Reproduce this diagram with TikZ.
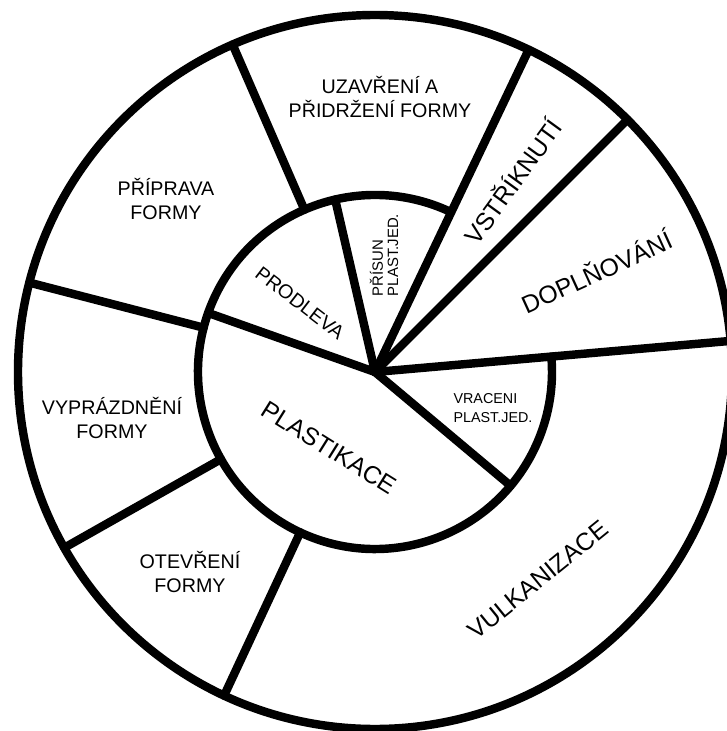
\documentclass[tikz,border=0pt]{standalone}
\usepackage{fontspec}
\setmainfont{Liberation Sans}
\setsansfont{Liberation Sans}
\tikzset{
  every picture/.style={font=\sffamily},
  raya/.style={line width=6pt, line cap=round, black},
  rotulo/.style={align=center, inner sep=0pt, font=\sffamily\fontsize{14}{16.4}\selectfont},
  rotulog/.style={inner sep=0pt, font=\sffamily\fontsize{17.6}{20}\selectfont},
  rotulop/.style={align=left, inner sep=0pt, font=\sffamily\fontsize{10.6}{10.8}\selectfont},
}

\begin{document}
\begin{tikzpicture}[x=0.025cm, y=0.025cm]
  \useasboundingbox (-375,-359) rectangle (352,372);
  \clip (-375,-359) rectangle (352,372);
  \fill[white] (-375,-359) rectangle (352,372);
  % kruhy
  \draw[raya] (0,0) circle[radius=357];
  \draw[raya] (65:177) arc[start angle=65, end angle=365, radius=177];
  % paprsky
  \foreach \ang in {5,45,64.5} \draw[raya] (0,0) -- (\ang:357);
  \foreach \ang in {103,160.5,-40} \draw[raya] (0,0) -- (\ang:177);
  \foreach \ang in {113.5,165.5,209.5,245} \draw[raya] (\ang:177) -- (\ang:357);
  % vnejsi mezikruzi
  \node[rotulo] (uzavreni) at (5,275) {UZAVŘENÍ A\\PŘIDRŽENÍ FORMY};
  \node[rotulo] (priprava) at (-209,173) {PŘÍPRAVA\\FORMY};
  \node[rotulo] (vyprazdneni) at (-263,-46) {VYPRÁZDNĚNÍ\\FORMY};
  \node[rotulo] (otevreni) at (-185,-200) {OTEVŘENÍ\\FORMY};
  \node[rotulog, rotate=39] (vulkanizace) at (163,-208) {VULKANIZACE};
  \node[rotulog, rotate=54] (vstriknuti) at (137,191) {VSTŘÍKNUTÍ};
  \node[rotulog, rotate=24.5] (doplnovani) at (221,101) {DOPLŇOVÁNÍ};
  % vnitrni kruh
  \node[rotulog, rotate=-32] (plastikace) at (-46,-76) {PLASTIKACE};
  \node[rotulo, rotate=-37.5] (prodleva) at (-75,69) {PRODLEVA};
  \node[rotulop, rotate=90] (prisun) at (9,117) {PŘÍSUN\\PLAST.JED.};
  \node[rotulop, font=\sffamily\fontsize{10.2}{13.5}\selectfont] (vraceni) at (118,-36) {VRACENI\\PLAST.JED.};
\end{tikzpicture}
\end{document}
